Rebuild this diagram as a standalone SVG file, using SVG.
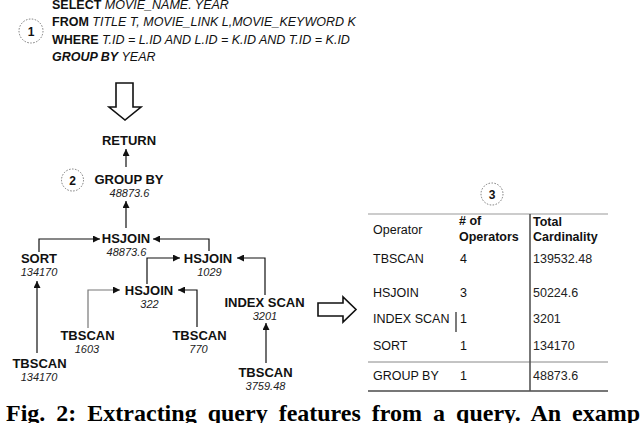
<svg xmlns="http://www.w3.org/2000/svg" width="640" height="423" viewBox="0 0 640 423">
<style>
text{font-family:"Liberation Sans",Arial,sans-serif;fill:#111}
.sql{font-size:12.5px}
.b{font-weight:bold}
.i{font-style:italic}
.node{font-size:13px;font-weight:bold;text-anchor:middle}
.num{font-size:11px;font-style:italic;text-anchor:middle;fill:#222}
.badge{fill:none;stroke:#777;stroke-width:1;stroke-dasharray:1.5 1.5}
.bn{font-size:12px;font-weight:bold;text-anchor:middle}
.c{fill:none;stroke:#111;stroke-width:1.2}
.tb{font-size:12.5px}
.th{font-size:12.5px;font-weight:bold}
.tv{font-size:12.5px;fill:#222}
.bigarrow{fill:#fff;stroke:#111;stroke-width:1.6;stroke-linejoin:miter}
.cap{font-family:"Liberation Serif","Times New Roman",serif;font-weight:bold;font-size:24px;word-spacing:5px;fill:#000}
</style>
<defs>
<marker id="ah" markerUnits="userSpaceOnUse" markerWidth="8" markerHeight="7" refX="7" refY="3.5" orient="auto">
<path d="M0,0 L7,3.5 L0,7 z" fill="#111"/>
</marker>
</defs>

<g id="sql">
<circle class="badge" cx="31" cy="31" r="12"/>
<text class="bn" x="31" y="35.5">1</text>
<text class="sql" x="52" y="8.5"><tspan class="b">SELECT</tspan><tspan class="i"> MOVIE_NAME. YEAR</tspan></text>
<text class="sql" x="52" y="26"><tspan class="b">FROM</tspan><tspan class="i"> TITLE T, MOVIE_LINK L,MOVIE_KEYWORD K</tspan></text>
<text class="sql" x="52" y="43.5"><tspan class="b">WHERE</tspan><tspan class="i"> T.ID = L.ID AND L.ID = K.ID AND T.ID = K.ID</tspan></text>
<text class="sql" x="52" y="61"><tspan class="b i">GROUP BY</tspan><tspan class="i"> YEAR</tspan></text>
</g>

<g id="down-arrow">
<path class="bigarrow" d="M116,83 H133 V107 H141 L125,120 L109,107 H116 Z"/>
</g>

<g id="badge2">
<circle class="badge" cx="72.5" cy="180" r="11"/>
<text class="bn" x="72.5" y="184.5">2</text>
</g>

<g id="n-return"><text class="node" x="129" y="145">RETURN</text></g>
<g id="n-groupby"><text class="node" x="129" y="184">GROUP BY</text><text class="num" x="129.5" y="197">48873.6</text></g>
<g id="n-hsjoin1"><text class="node" x="126" y="243">HSJOIN</text><text class="num" x="126.5" y="256">48873.6</text></g>
<g id="n-sort"><text class="node" x="39" y="263">SORT</text><text class="num" x="39" y="276">134170</text></g>
<g id="n-hsjoin2"><text class="node" x="208" y="263">HSJOIN</text><text class="num" x="209.5" y="276">1029</text></g>
<g id="n-hsjoin3"><text class="node" x="149" y="295">HSJOIN</text><text class="num" x="149.5" y="308">322</text></g>
<g id="n-indexscan"><text class="node" x="264.5" y="307">INDEX SCAN</text><text class="num" x="265" y="320">3201</text></g>
<g id="n-tbscan1"><text class="node" x="87.5" y="340">TBSCAN</text><text class="num" x="87" y="353">1603</text></g>
<g id="n-tbscan2"><text class="node" x="199.5" y="340">TBSCAN</text><text class="num" x="198.5" y="353">770</text></g>
<g id="n-tbscan3"><text class="node" x="39.5" y="368">TBSCAN</text><text class="num" x="39" y="381">134170</text></g>
<g id="n-tbscan4"><text class="node" x="265.5" y="377">TBSCAN</text><text class="num" x="265.5" y="390">3759.48</text></g>

<g id="connectors">
<path class="c" d="M126,167 V149" marker-end="url(#ah)"/>
<path class="c" d="M126,228 V201" marker-end="url(#ah)"/>
<path class="c" d="M39,252 V239 H100" marker-end="url(#ah)"/>
<path class="c" d="M209,251 V239 H153" marker-end="url(#ah)"/>
<path class="c" d="M147,284 V258 H180" marker-end="url(#ah)"/>
<path class="c" d="M88,328 V290 H120" stroke="#888" marker-end="url(#ah)" style="stroke:#777"/>
<path class="c" d="M197,327 V290 H178" marker-end="url(#ah)"/>
<path class="c" d="M265,295 V258 H237" marker-end="url(#ah)"/>
<path class="c" d="M37,353 V281" marker-end="url(#ah)"/>
<path class="c" d="M266,363 V323" marker-end="url(#ah)"/>
</g>

<g id="right-arrow">
<path class="bigarrow" d="M318,303 H343 V297 L356,309.5 L343,322 V316 H318 Z"/>
</g>

<g id="table">
<circle class="badge" cx="492" cy="194" r="11"/>
<text class="bn" x="492" y="198.5">3</text>
<line x1="368" y1="214" x2="608" y2="214" stroke="#999" stroke-width="1"/>
<line x1="368" y1="362" x2="608" y2="362" stroke="#888" stroke-width="1"/>
<line x1="368" y1="391" x2="608" y2="391" stroke="#777" stroke-width="2"/>
<line x1="530" y1="214" x2="530" y2="391" stroke="#555" stroke-width="1.6"/>
<line x1="456" y1="312" x2="456" y2="332" stroke="#222" stroke-width="1.2"/>
<text class="tb" x="373" y="234">Operator</text>
<text class="th" x="459" y="225"># of</text>
<text class="th" x="459" y="241">Operators</text>
<text class="th" x="533" y="226">Total</text>
<text class="th" x="533" y="241">Cardinality</text>
<text class="tb" x="373" y="263">TBSCAN</text><text class="tb" x="460" y="263">4</text><text class="tv" x="533" y="263">139532.48</text>
<text class="tb" x="373" y="297">HSJOIN</text><text class="tb" x="460" y="297">3</text><text class="tv" x="533" y="297">50224.6</text>
<text class="tb" x="373" y="323">INDEX SCAN</text><text class="tb" x="460" y="323">1</text><text class="tv" x="533" y="323">3201</text>
<text class="tb" x="373" y="350">SORT</text><text class="tb" x="460" y="350">1</text><text class="tv" x="533" y="350">134170</text>
<text class="tb" x="373" y="380">GROUP BY</text><text class="tb" x="460" y="380">1</text><text class="tv" x="533" y="380">48873.6</text>
</g>

<text class="cap" x="6" y="421">Fig. 2: Extracting query features from a query. An examp</text>
</svg>
